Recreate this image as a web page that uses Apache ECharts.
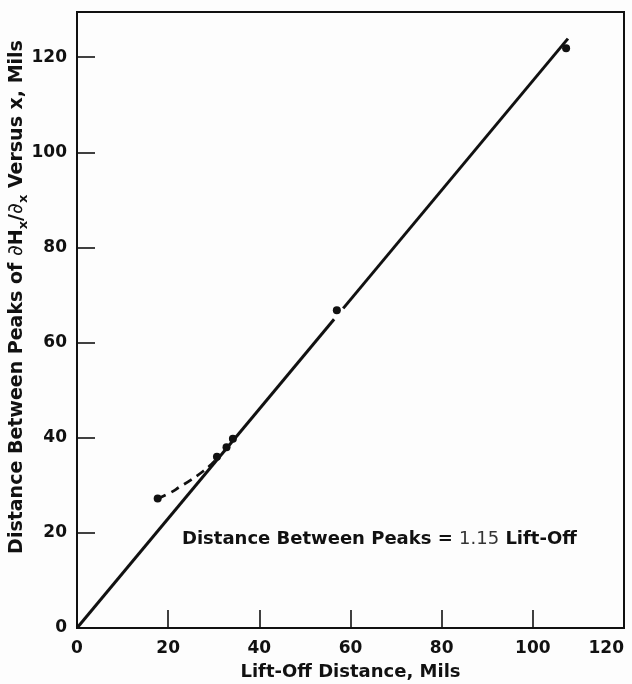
<!DOCTYPE html>
<html>
<head>
<meta charset="utf-8">
<script src="https://cdn.jsdelivr.net/npm/echarts@6/dist/echarts.min.js"></script>
<style>
  html, body { margin: 0; padding: 0; background: #fdfdfd; }
  #chart { width: 632px; height: 684px; }
</style>
</head>
<body>
<div id="chart"></div>
<script>
// Measured points: lift-off distance (mils) vs. distance between peaks (mils)
const measured = [
  [17.7, 27.2],
  [30.7, 36.0],
  [32.8, 38.0],
  [34.2, 39.8],
  [57.0, 66.8],
  [107.3, 121.9]
];

// Fitted line, drawn in two pieces with a small break beside the 57-mil point
const fitLower = [[0, 0], [56.4, 64.9]];
const fitUpper = [[58.4, 67.2], [107.7, 123.9]];

// Hand-drawn dashed departure at small lift-off distances
const lowEndCurve = [
  [17.7, 27.2], [20.4, 28.4], [22.6, 29.7], [25.1, 31.2],
  [27.6, 32.9], [29.5, 34.4], [30.7, 35.6]
];

const xTicks = [0, 20, 40, 60, 80, 100, 120];
const yTicks = [0, 20, 40, 60, 80, 100, 120];

const ink = '#111111';
const font = 'DejaVu Sans';

const chart = echarts.init(document.getElementById('chart'), null, { renderer: 'canvas' });

chart.setOption({
  backgroundColor: '#fdfdfd',
  animation: false,
  grid: {
    left: 77, right: 8, top: 12, bottom: 56,
    outerBoundsMode: 'none', containLabel: false,
    show: true, borderColor: ink, borderWidth: 2, backgroundColor: 'transparent'
  },
  xAxis: {
    type: 'value', min: 0, max: 120, interval: 20,
    name: 'Lift-Off Distance, Mils',
    nameLocation: 'middle', nameGap: 35, nameMoveOverlap: false,
    nameTextStyle: { color: ink, fontFamily: font, fontWeight: 'bold', fontSize: 18 },
    axisLine: { lineStyle: { color: ink, width: 2 } },
    axisTick: { show: true, inside: true, length: 18, customValues: xTicks, lineStyle: { color: ink, width: 1.6 } },
    axisLabel: {
      customValues: xTicks, margin: 12, alignMaxLabel: 'right',
      color: ink, fontFamily: font, fontWeight: 'bold', fontSize: 17
    },
    splitLine: { show: false }
  },
  yAxis: {
    type: 'value', min: 0, max: 129.5,
    name: '{t|Distance Between Peaks of }{d|∂}{t|H}{s|x}{t|/}{d|∂}{s|x}{t| Versus x, Mils}',
    nameLocation: 'middle', nameGap: 47, nameRotate: 90, nameMoveOverlap: false,
    nameTextStyle: {
      padding: [0, 0, 0, 46],
      rich: {
        t: { color: ink, fontFamily: font, fontWeight: 'bold', fontSize: 19, lineHeight: 26, verticalAlign: 'middle' },
        d: { color: ink, fontFamily: font, fontWeight: 'normal', fontStyle: 'italic', fontSize: 21, lineHeight: 26, verticalAlign: 'middle' },
        s: { color: ink, fontFamily: font, fontWeight: 'bold', fontSize: 13, lineHeight: 26, verticalAlign: 'bottom' }
      }
    },
    axisLine: { lineStyle: { color: ink, width: 2 } },
    axisTick: { show: true, inside: true, length: 18, customValues: yTicks, lineStyle: { color: ink, width: 1.6 } },
    axisLabel: { customValues: yTicks, margin: 10, color: ink, fontFamily: font, fontWeight: 'bold', fontSize: 17 },
    splitLine: { show: false }
  },
  graphic: [{
    type: 'text', left: 182, top: 530,
    style: {
      text: '{b|Distance Between Peaks = }{n|1.15}{b| Lift-Off}',
      rich: {
        b: { fill: ink, fontFamily: font, fontWeight: 'bold', fontSize: 18 },
        n: { fill: '#333', fontFamily: font, fontWeight: 'normal', fontSize: 18 }
      }
    }
  }],
  series: [
    {
      type: 'line', data: fitLower, symbol: 'none', silent: true,
      lineStyle: { color: ink, width: 3 }
    },
    {
      type: 'line', data: fitUpper, symbol: 'none', silent: true,
      lineStyle: { color: ink, width: 3 }
    },
    {
      type: 'line', data: lowEndCurve, symbol: 'none', smooth: true, silent: true,
      lineStyle: { color: ink, width: 2.8, type: [9, 6] }
    },
    {
      type: 'scatter', data: measured, symbol: 'circle', symbolSize: 8,
      itemStyle: { color: ink, opacity: 1 }
    }
  ]
});
</script>
</body>
</html>
